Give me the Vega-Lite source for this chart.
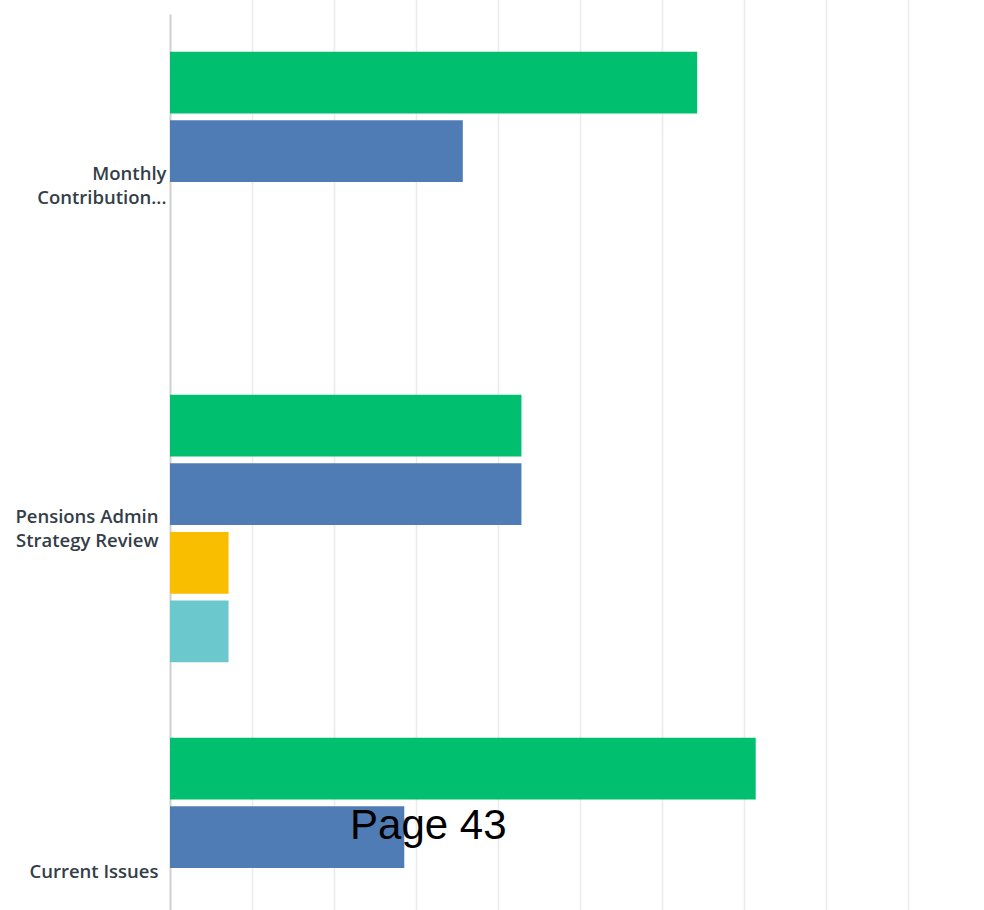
{
  "$schema": "https://vega.github.io/schema/vega-lite/v6.json",
  "autosize": "none",
  "width": 814,
  "height": 896,
  "padding": {"left": 170, "top": 14, "right": 0, "bottom": 0},
  "background": "white",
  "config": {"view": {"stroke": null}},
  "datasets": {
    "bars": [
      {"category": "Monthly Contribution...", "series": "Series 1", "percent": 64.29},
      {"category": "Monthly Contribution...", "series": "Series 2", "percent": 35.71},
      {"category": "Monthly Contribution...", "series": "Series 3", "percent": 0},
      {"category": "Monthly Contribution...", "series": "Series 4", "percent": 0},
      {"category": "Pensions Admin Strategy Review", "series": "Series 1", "percent": 42.86},
      {"category": "Pensions Admin Strategy Review", "series": "Series 2", "percent": 42.86},
      {"category": "Pensions Admin Strategy Review", "series": "Series 3", "percent": 7.14},
      {"category": "Pensions Admin Strategy Review", "series": "Series 4", "percent": 7.14},
      {"category": "Current Issues", "series": "Series 1", "percent": 71.43},
      {"category": "Current Issues", "series": "Series 2", "percent": 28.57},
      {"category": "Current Issues", "series": "Series 3", "percent": 0},
      {"category": "Current Issues", "series": "Series 4", "percent": 0}
    ],
    "page": [
      {"category": "Current Issues", "series": "Series 2", "percent": 31.5, "label": "Page 43"}
    ]
  },
  "encoding": {
    "y": {
      "field": "category",
      "type": "nominal",
      "sort": ["Monthly Contribution...", "Pensions Admin Strategy Review", "Current Issues"],
      "scale": {"range": [0, 1029], "paddingInner": 0, "paddingOuter": 0},
      "axis": {
        "title": null,
        "ticks": false,
        "domain": true,
        "domainColor": "#d0d0d0",
        "domainWidth": 2,
        "labelPadding": {"condition": {"test": "datum.label == 'Monthly Contribution...'", "value": 4}, "value": 12},
        "labelOffset": {"condition": {"test": "datum.label == 'Current Issues'", "value": 0}, "value": -12},
        "labelFont": "Open Sans",
        "labelFontWeight": 600,
        "labelFontSize": 18.5,
        "labelColor": "#333e48",
        "labelLineHeight": 24,
        "labelLimit": 200,
        "labelExpr": "datum.label == 'Monthly Contribution...' ? ['Monthly', 'Contribution...'] : datum.label == 'Pensions Admin Strategy Review' ? ['Pensions Admin', 'Strategy Review'] : datum.label"
      }
    },
    "yOffset": {
      "field": "series",
      "type": "nominal",
      "sort": ["Series 1", "Series 2", "Series 3", "Series 4"],
      "scale": {"paddingInner": 0.1, "paddingOuter": 0.55}
    },
    "x": {
      "field": "percent",
      "type": "quantitative",
      "scale": {"domain": [0, 99.27], "nice": false, "zero": true},
      "axis": {
        "title": null,
        "labels": false,
        "ticks": false,
        "domain": false,
        "grid": true,
        "gridColor": "#ebebeb",
        "gridWidth": 1.6,
        "values": [10, 20, 30, 40, 50, 60, 70, 80, 90]
      }
    }
  },
  "layer": [
    {
      "data": {"name": "bars"},
      "mark": {"type": "bar", "cornerRadius": 0},
      "encoding": {
        "color": {
          "field": "series",
          "type": "nominal",
          "scale": {
            "domain": ["Series 1", "Series 2", "Series 3", "Series 4"],
            "range": ["#00BF6F", "#507CB6", "#F9BE00", "#6BC8CD"]
          },
          "legend": null
        }
      }
    },
    {
      "data": {"name": "page"},
      "mark": {
        "type": "text",
        "font": "Liberation Sans",
        "fontSize": 42,
        "color": "black",
        "align": "center",
        "baseline": "alphabetic",
        "dy": 2
      },
      "encoding": {
        "text": {"field": "label", "type": "nominal"}
      }
    }
  ]
}
